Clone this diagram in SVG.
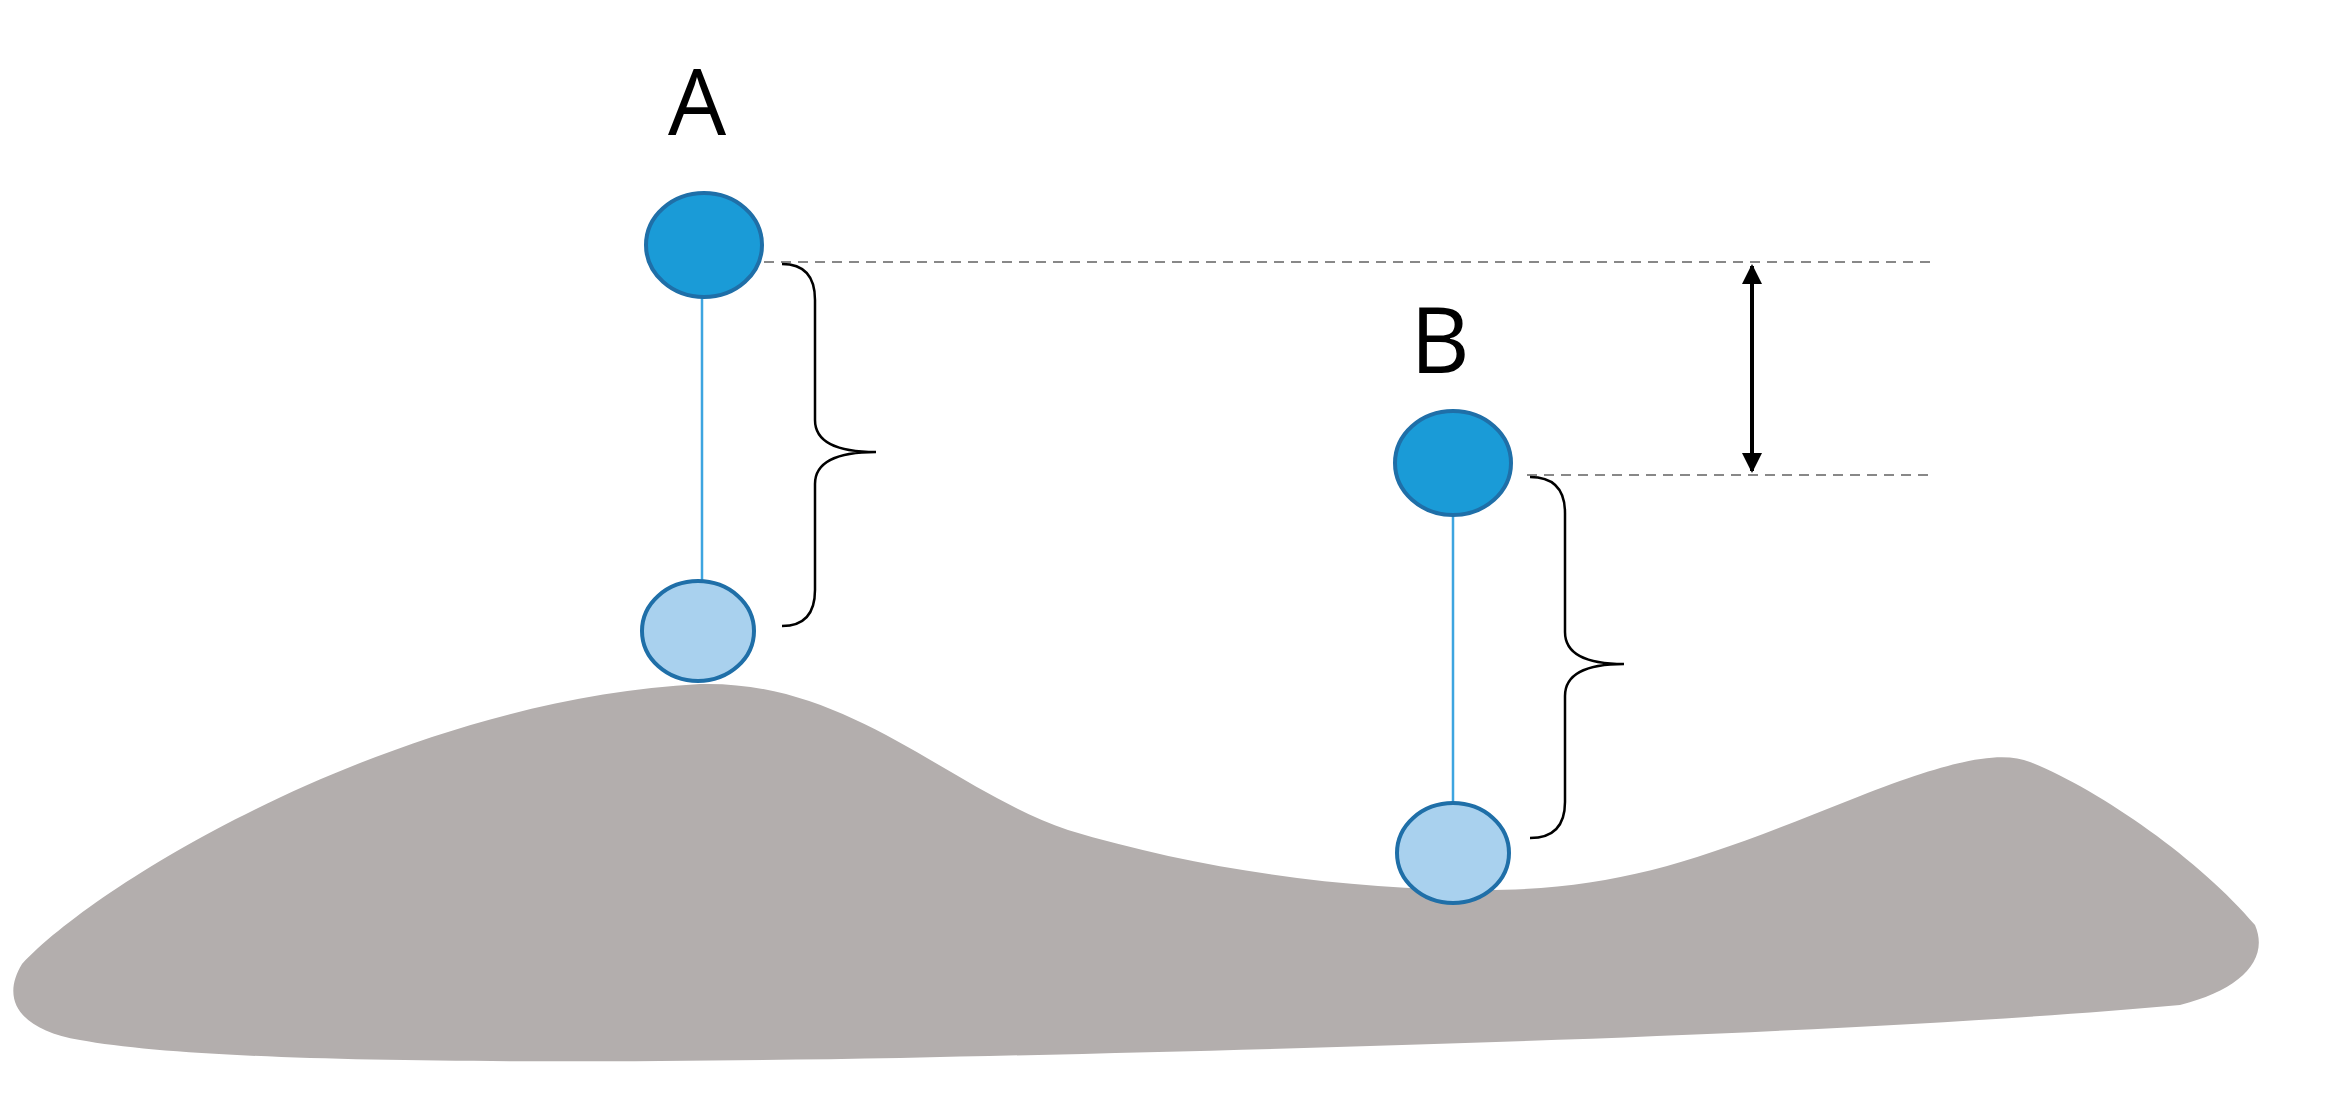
<svg xmlns="http://www.w3.org/2000/svg" width="2325" height="1115" viewBox="0 0 2325 1115">
<defs>
<style>
.top{fill:#1A9BD7;stroke:#1F6FA8;stroke-width:4}
.bot{fill:#A9D1EE;stroke:#1F6FA8;stroke-width:4}
.rod{stroke:#3DA5E0;stroke-width:2.5}
.brace{fill:none;stroke:#000;stroke-width:2.5}
.dash{stroke:#888;stroke-width:2;stroke-dasharray:10 7}
.lbl{font-family:"Open Sans","Liberation Sans",sans-serif;font-size:92px;fill:#000}
</style>
<marker id="ah" viewBox="0 0 10 10" refX="9" refY="5" markerWidth="5" markerHeight="5" orient="auto-start-reverse"><path d="M0,0 L10,5 L0,10 Z" fill="#000"/></marker>
</defs>
<rect width="2325" height="1115" fill="#fff"/>
<path id="ground" d="M22,964 C100,880 400,700 700,684 C850,680 950,790 1068,830 C1200,870 1350,890 1483,890 C1620,890 1700,860 1850,800 C1950,760 2000,750 2030,762 C2100,790 2200,860 2255,925 C2270,960 2240,990 2180,1005 C1900,1030 1500,1045 900,1058 C500,1065 200,1062 80,1040 C20,1030 0,1000 22,964 Z" fill="#B3AEAD"/>
<g id="connectors">
<line class="dash" x1="764" y1="262" x2="1930" y2="262"/>
<line class="dash" x1="1527" y1="475" x2="1935" y2="475"/>
<line x1="1752" y1="266" x2="1752" y2="471" stroke="#000" stroke-width="4" marker-start="url(#ah)" marker-end="url(#ah)"/>
<line class="rod" x1="702" y1="297" x2="702" y2="581"/>
<line class="rod" x1="1453" y1="515" x2="1453" y2="804"/>
<path class="brace" d="M782,264 Q815,264 815,300 L815,420 Q815,452 876,452 Q815,452 815,484 L815,590 Q815,626 782,626"/>
<path class="brace" d="M1530,477 Q1565,477 1565,513 L1565,632 Q1565,664 1624,664 Q1565,664 1565,696 L1565,802 Q1565,838 1530,838"/>
</g>
<g id="nodeA">
<text class="lbl" x="697" y="135" text-anchor="middle">A</text>
<ellipse class="top" cx="704" cy="245" rx="58" ry="52"/>
<ellipse class="bot" cx="698" cy="631" rx="56" ry="50"/>
</g>
<g id="nodeB">
<text class="lbl" x="1440" y="373" text-anchor="middle">B</text>
<ellipse class="top" cx="1453" cy="463" rx="58" ry="52"/>
<ellipse class="bot" cx="1453" cy="853" rx="56" ry="50"/>
</g>
</svg>
